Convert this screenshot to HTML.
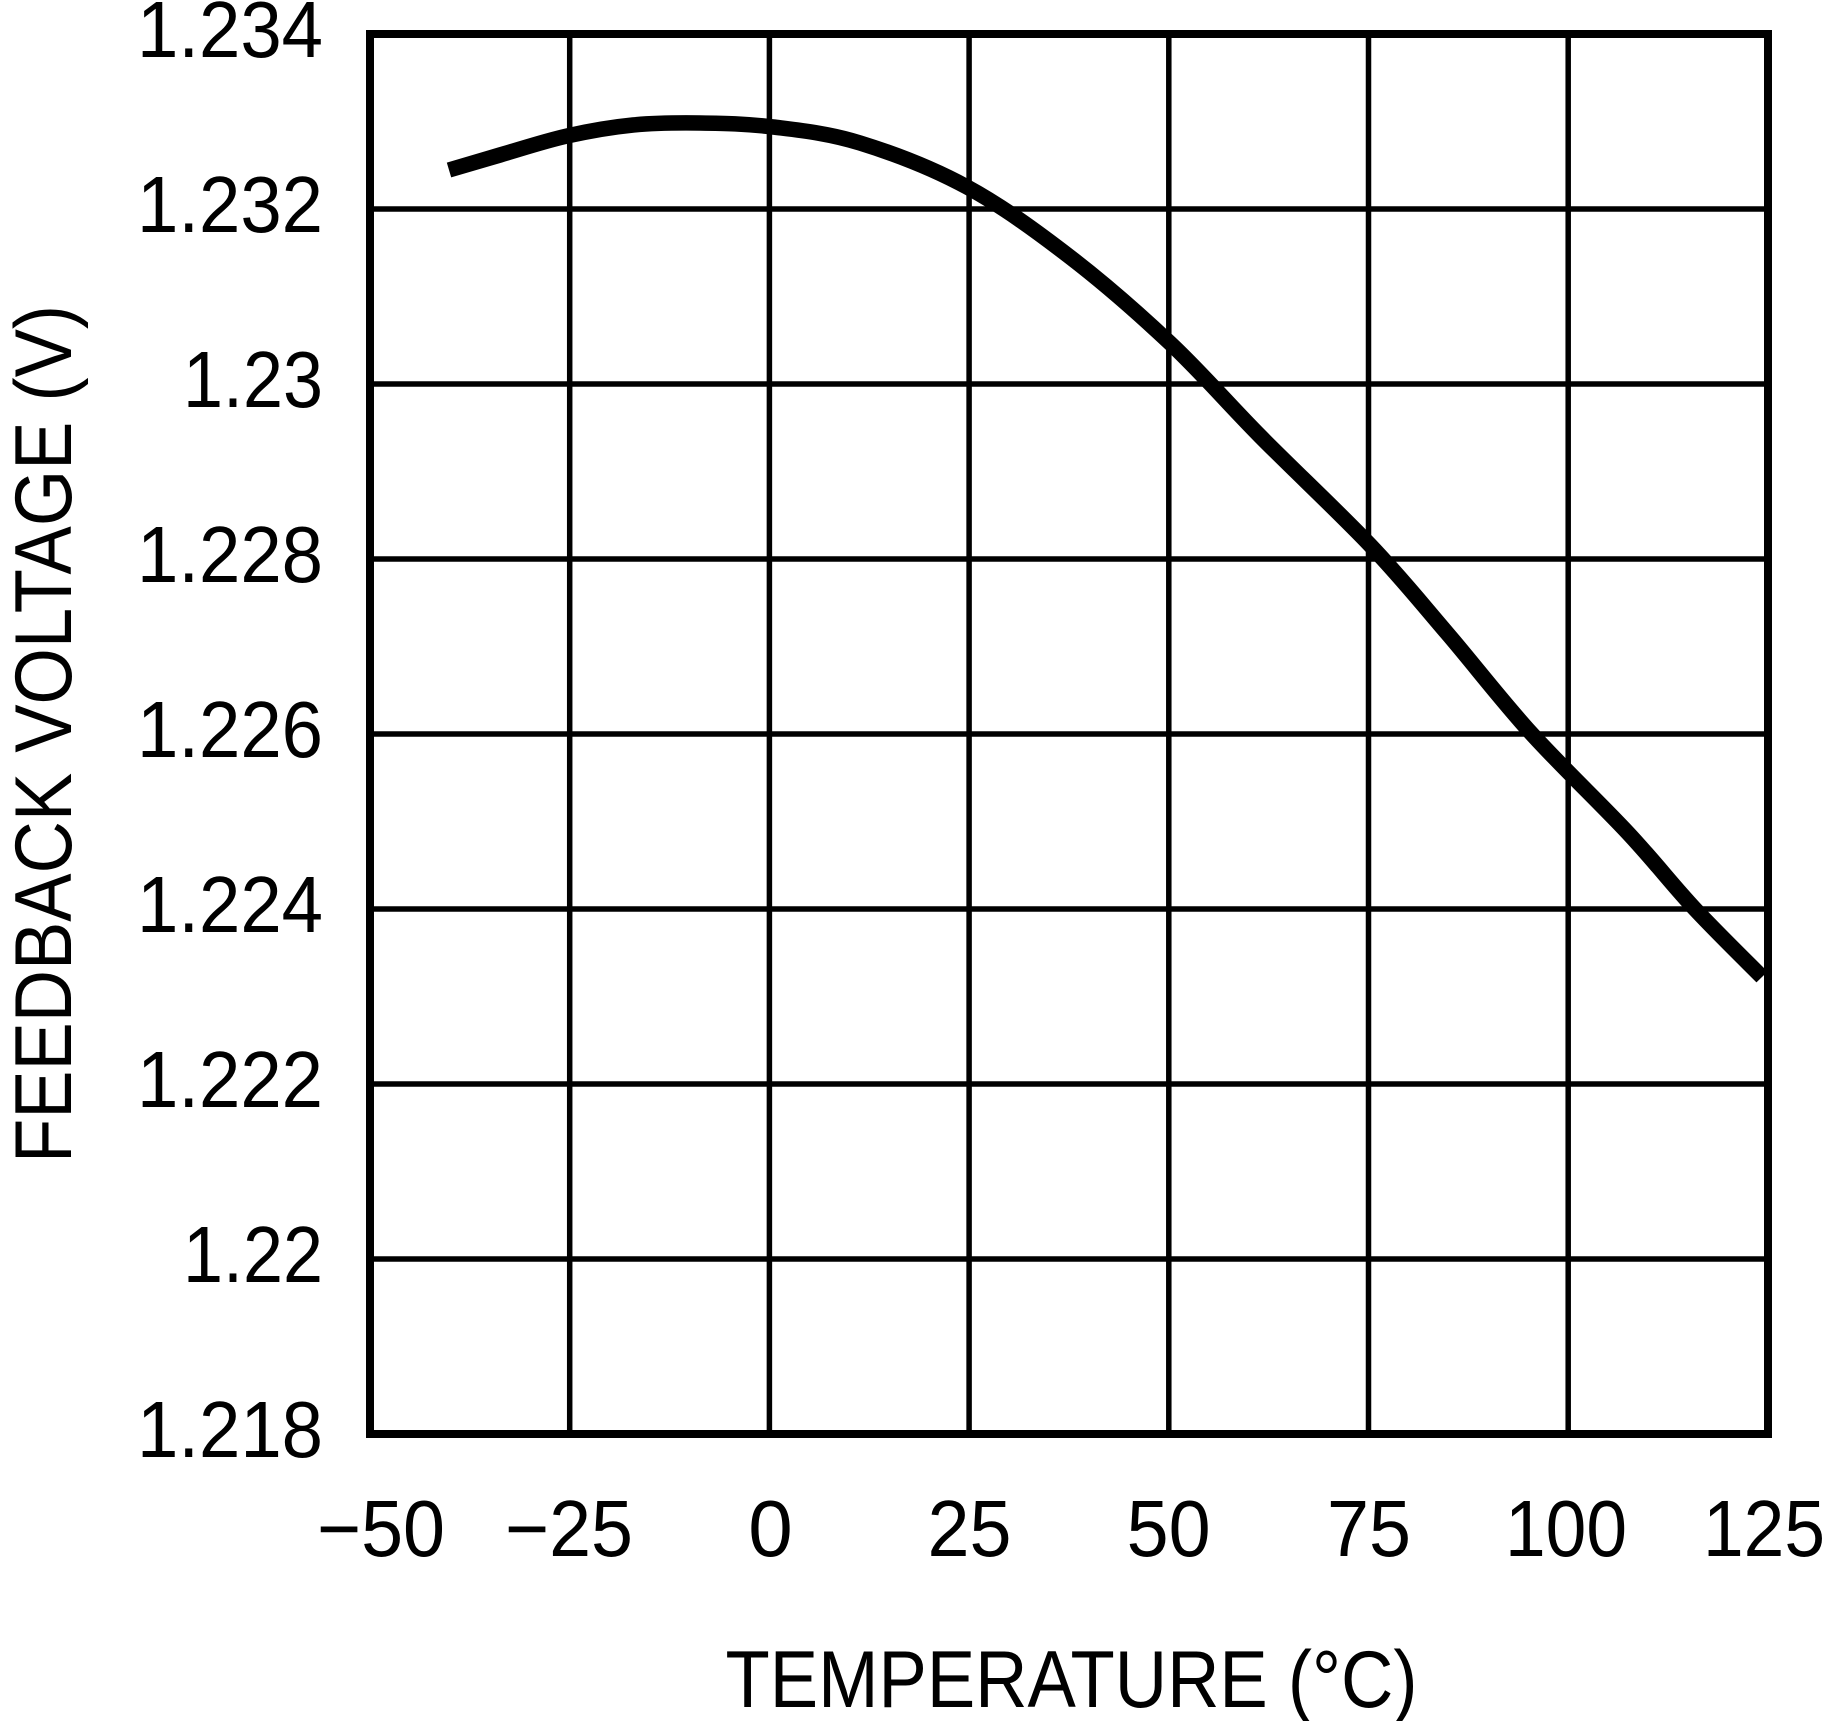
<!DOCTYPE html>
<html>
<head>
<meta charset="utf-8">
<style>
  html, body { margin: 0; padding: 0; background: #fff; }
  svg { display: block; }
  text { font-family: "Liberation Sans", "DejaVu Sans", sans-serif; fill: #000; }
</style>
</head>
<body>
<svg width="1826" height="1721" viewBox="0 0 1826 1721" xmlns="http://www.w3.org/2000/svg">
  <rect x="0" y="0" width="1826" height="1721" fill="#fff"/>

  <!-- grid lines -->
  <g stroke="#000" stroke-width="5.5" fill="none">
    <line x1="569.7" y1="34" x2="569.7" y2="1434"/>
    <line x1="769.4" y1="34" x2="769.4" y2="1434"/>
    <line x1="969.1" y1="34" x2="969.1" y2="1434"/>
    <line x1="1168.8" y1="34" x2="1168.8" y2="1434"/>
    <line x1="1368.5" y1="34" x2="1368.5" y2="1434"/>
    <line x1="1568.2" y1="34" x2="1568.2" y2="1434"/>

    <line x1="370" y1="209" x2="1768" y2="209"/>
    <line x1="370" y1="384" x2="1768" y2="384"/>
    <line x1="370" y1="559" x2="1768" y2="559"/>
    <line x1="370" y1="734" x2="1768" y2="734"/>
    <line x1="370" y1="909" x2="1768" y2="909"/>
    <line x1="370" y1="1084" x2="1768" y2="1084"/>
    <line x1="370" y1="1259" x2="1768" y2="1259"/>
  </g>

  <!-- frame -->
  <rect x="370" y="34" width="1398" height="1400" fill="none" stroke="#000" stroke-width="8"/>

  <!-- curve -->
  <path fill="none" stroke="#000" stroke-width="15.5" stroke-linejoin="round" stroke-linecap="butt"
    d="M449,170
       C457.5,167.5 480.3,160.7 500,155
       C519.7,149.3 544.8,141 567,136
       C589.2,131 610.8,127.2 633,125
       C655.2,122.8 676.7,122.7 700,123
       C723.3,123.3 746.3,123.7 773,127
       C799.7,130.3 827.7,133 860,143
       C892.3,153 932,168 967,187
       C1002,206 1036.2,231 1070,257
       C1103.8,283 1138.3,313.2 1170,343
       C1201.7,372.8 1226.7,402.3 1260,436
       C1293.3,469.7 1338.8,512.2 1370,545
       C1401.2,577.8 1420.2,601.7 1447,633
       C1473.8,664.3 1500.8,699.7 1531,733
       C1561.2,766.3 1600.8,803.8 1628,833
       C1655.2,862.2 1671.7,884 1694,908
       C1716.3,932 1750.7,965.5 1762,977"/>

  <!-- y tick labels -->
  <g font-size="80" text-anchor="end">
    <text x="323" y="57" textLength="186" lengthAdjust="spacingAndGlyphs">1.234</text>
    <text x="323" y="232" textLength="186" lengthAdjust="spacingAndGlyphs">1.232</text>
    <text x="323" y="407" textLength="140" lengthAdjust="spacingAndGlyphs">1.23</text>
    <text x="323" y="582" textLength="186" lengthAdjust="spacingAndGlyphs">1.228</text>
    <text x="323" y="757" textLength="186" lengthAdjust="spacingAndGlyphs">1.226</text>
    <text x="323" y="932" textLength="186" lengthAdjust="spacingAndGlyphs">1.224</text>
    <text x="323" y="1107" textLength="186" lengthAdjust="spacingAndGlyphs">1.222</text>
    <text x="323" y="1282" textLength="140" lengthAdjust="spacingAndGlyphs">1.22</text>
    <text x="323" y="1457" textLength="186" lengthAdjust="spacingAndGlyphs">1.218</text>
  </g>

  <!-- x tick labels -->
  <g font-size="80" text-anchor="middle">
    <text x="381" y="1556" textLength="128" lengthAdjust="spacingAndGlyphs">−50</text>
    <text x="569" y="1556" textLength="128" lengthAdjust="spacingAndGlyphs">−25</text>
    <text x="770.5" y="1556">0</text>
    <text x="969.5" y="1556" textLength="84" lengthAdjust="spacingAndGlyphs">25</text>
    <text x="1168.6" y="1556" textLength="84" lengthAdjust="spacingAndGlyphs">50</text>
    <text x="1369" y="1556" textLength="84" lengthAdjust="spacingAndGlyphs">75</text>
    <text x="1566" y="1556" textLength="122" lengthAdjust="spacingAndGlyphs">100</text>
    <text x="1764" y="1556" textLength="122" lengthAdjust="spacingAndGlyphs">125</text>
  </g>

  <!-- axis titles -->
  <text x="725.5" y="1707" font-size="81" textLength="692" lengthAdjust="spacingAndGlyphs">TEMPERATURE (°C)</text>
  <text transform="translate(71,1163) rotate(-90)" x="0" y="0" font-size="81" textLength="858" lengthAdjust="spacingAndGlyphs">FEEDBACK VOLTAGE (V)</text>
</svg>
</body>
</html>
